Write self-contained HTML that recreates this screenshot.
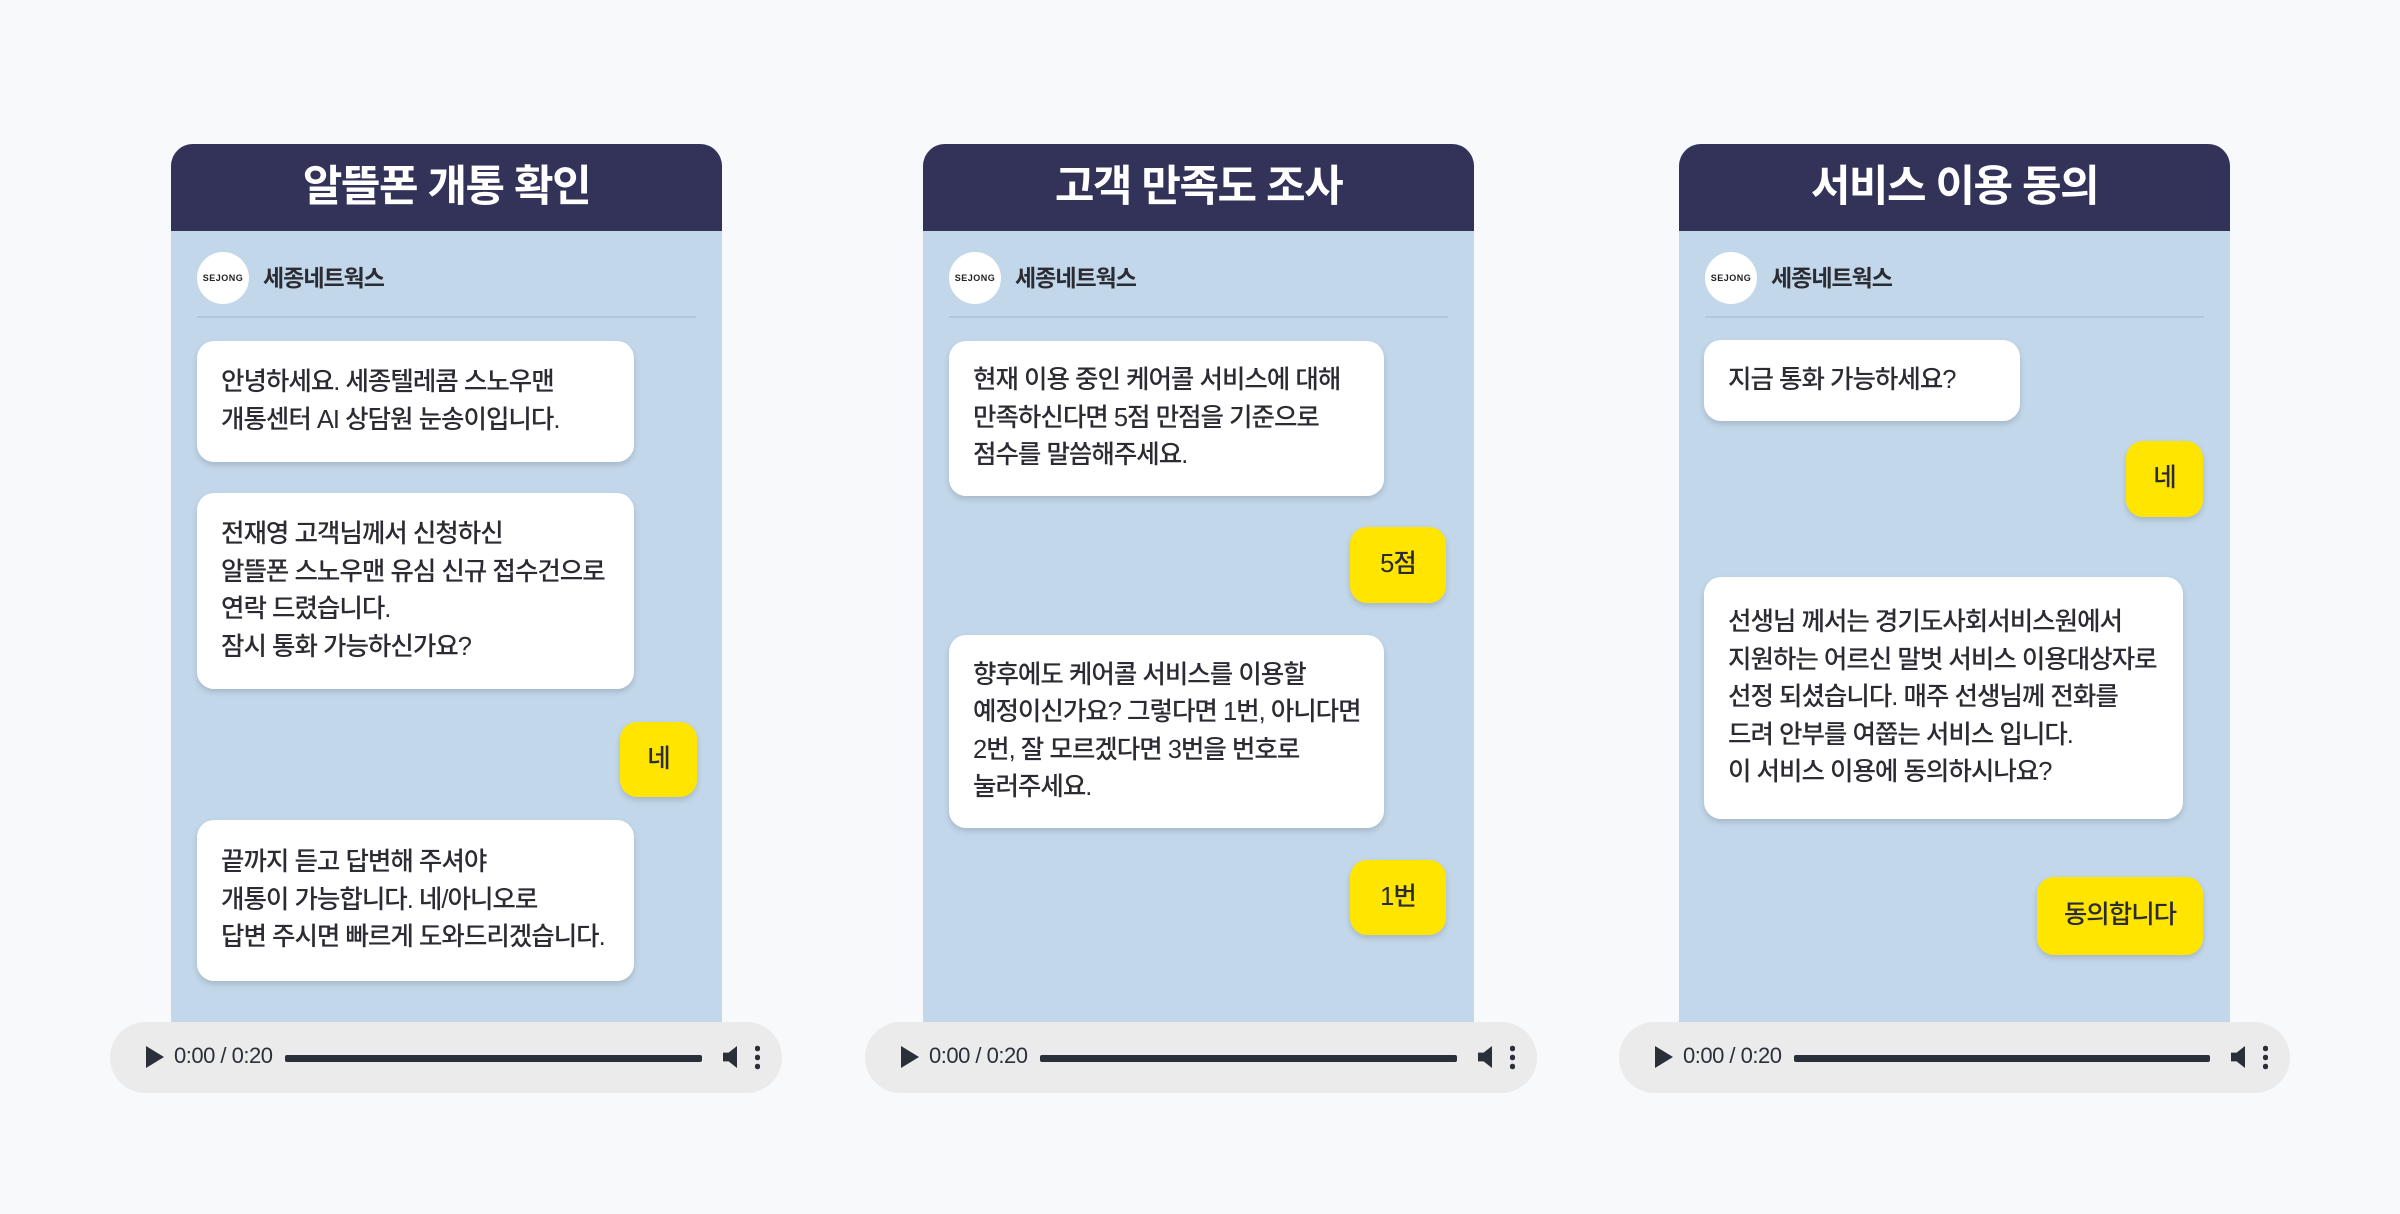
<!DOCTYPE html>
<html><head><meta charset="utf-8">
<style>
*{margin:0;padding:0;box-sizing:border-box}
body{width:2400px;height:1214px;background:#f7f9fb;position:relative;overflow:hidden;font-family:"Liberation Sans","Noto Sans CJK KR",sans-serif;color:#2b2b33}
.panel{position:absolute;top:144px;width:551px;height:878px;background:#c2d7ea;border-radius:22px 22px 0 0;overflow:hidden}
.hd{height:87px;background:#33335a;color:#fff;font-weight:700;font-size:43px;letter-spacing:-1.5px;text-align:center;line-height:87px}
.logo{position:absolute;left:26px;top:108px;width:52px;height:52px;border-radius:50%;background:#fff;font-size:9px;font-weight:700;text-align:center;line-height:52px;letter-spacing:0.5px;color:#222}
.name{position:absolute;left:92px;top:117px;font-size:23px;font-weight:700;letter-spacing:-1px;line-height:34px}
.div{position:absolute;left:26px;right:26px;top:172px;height:2px;background:#b2c8de}
.b{position:absolute;background:#fff;border-radius:17px;box-shadow:0 3px 6px rgba(0,0,0,.15);display:flex;flex-direction:column;justify-content:center;padding-left:24px;font-size:25.5px;font-weight:500;line-height:37.5px;letter-spacing:-1px;white-space:nowrap}
.y{background:#ffe500;padding:0;align-items:center}
.audio{position:absolute;top:1022px;height:71px;background:#ebebeb;border-radius:36px}
.play{position:absolute;left:36px;top:24px;width:0;height:0;border-left:18px solid #2b2f3a;border-top:11px solid transparent;border-bottom:11px solid transparent}
.time{position:absolute;left:64px;top:21px;font-size:22px;letter-spacing:-0.5px;color:#2b2f3a}
.track{position:absolute;left:175px;right:80px;top:33px;height:7px;background:#2b2f3a;border-radius:2px}
.vol{position:absolute;right:45px;top:24px;width:14px;height:22px;background:#2b2f3a;clip-path:polygon(0 30%,40% 30%,100% 0,100% 100%,40% 70%,0 70%)}
.dots{position:absolute;right:22px;top:22px;width:5px;height:26px;background:radial-gradient(circle,#2b2f3a 2.5px,transparent 3px) 0 0/5px 9px repeat-y}
</style></head><body>

<div class="panel" style="left:171px">
<div class="hd">알뜰폰 개통 확인</div>
<div class="logo">SEJONG</div><div class="name">세종네트웍스</div><div class="div"></div>
<div class="b" style="left:26px;top:197px;width:437px;height:121px">안녕하세요. 세종텔레콤 스노우맨<br>개통센터 AI 상담원 눈송이입니다.</div>
<div class="b" style="left:26px;top:349px;width:437px;height:196px">전재영 고객님께서 신청하신<br>알뜰폰 스노우맨 유심 신규 접수건으로<br>연락 드렸습니다.<br>잠시 통화 가능하신가요?</div>
<div class="b y" style="left:449px;top:578px;width:77px;height:75px">네</div>
<div class="b" style="left:26px;top:676px;width:437px;height:161px">끝까지 듣고 답변해 주셔야<br>개통이 가능합니다. 네/아니오로<br>답변 주시면 빠르게 도와드리겠습니다.</div>
</div>

<div class="panel" style="left:923px">
<div class="hd">고객 만족도 조사</div>
<div class="logo">SEJONG</div><div class="name">세종네트웍스</div><div class="div"></div>
<div class="b" style="left:26px;top:197px;width:435px;height:155px">현재 이용 중인 케어콜 서비스에 대해<br>만족하신다면 5점 만점을 기준으로<br>점수를 말씀해주세요.</div>
<div class="b y" style="left:427px;top:383px;width:96px;height:76px">5점</div>
<div class="b" style="left:26px;top:491px;width:435px;height:193px">향후에도 케어콜 서비스를 이용할<br>예정이신가요? 그렇다면 1번, 아니다면<br>2번, 잘 모르겠다면 3번을 번호로<br>눌러주세요.</div>
<div class="b y" style="left:427px;top:716px;width:96px;height:75px">1번</div>
</div>

<div class="panel" style="left:1679px">
<div class="hd">서비스 이용 동의</div>
<div class="logo">SEJONG</div><div class="name">세종네트웍스</div><div class="div"></div>
<div class="b" style="left:25px;top:196px;width:316px;height:81px">지금 통화 가능하세요?</div>
<div class="b y" style="left:447px;top:297px;width:77px;height:76px">네</div>
<div class="b" style="left:25px;top:433px;width:479px;height:242px">선생님 께서는 경기도사회서비스원에서<br>지원하는 어르신 말벗 서비스 이용대상자로<br>선정 되셨습니다. 매주 선생님께 전화를<br>드려 안부를 여쭙는 서비스 입니다.<br>이 서비스 이용에 동의하시나요?</div>
<div class="b y" style="left:358px;top:733px;width:166px;height:78px">동의합니다</div>
</div>

<div class="audio" style="left:110px;width:672px"><div class="play"></div><div class="time">0:00 / 0:20</div><div class="track"></div><div class="vol"></div><div class="dots"></div></div>
<div class="audio" style="left:865px;width:672px"><div class="play"></div><div class="time">0:00 / 0:20</div><div class="track"></div><div class="vol"></div><div class="dots"></div></div>
<div class="audio" style="left:1619px;width:671px"><div class="play"></div><div class="time">0:00 / 0:20</div><div class="track"></div><div class="vol"></div><div class="dots"></div></div>

</body></html>
